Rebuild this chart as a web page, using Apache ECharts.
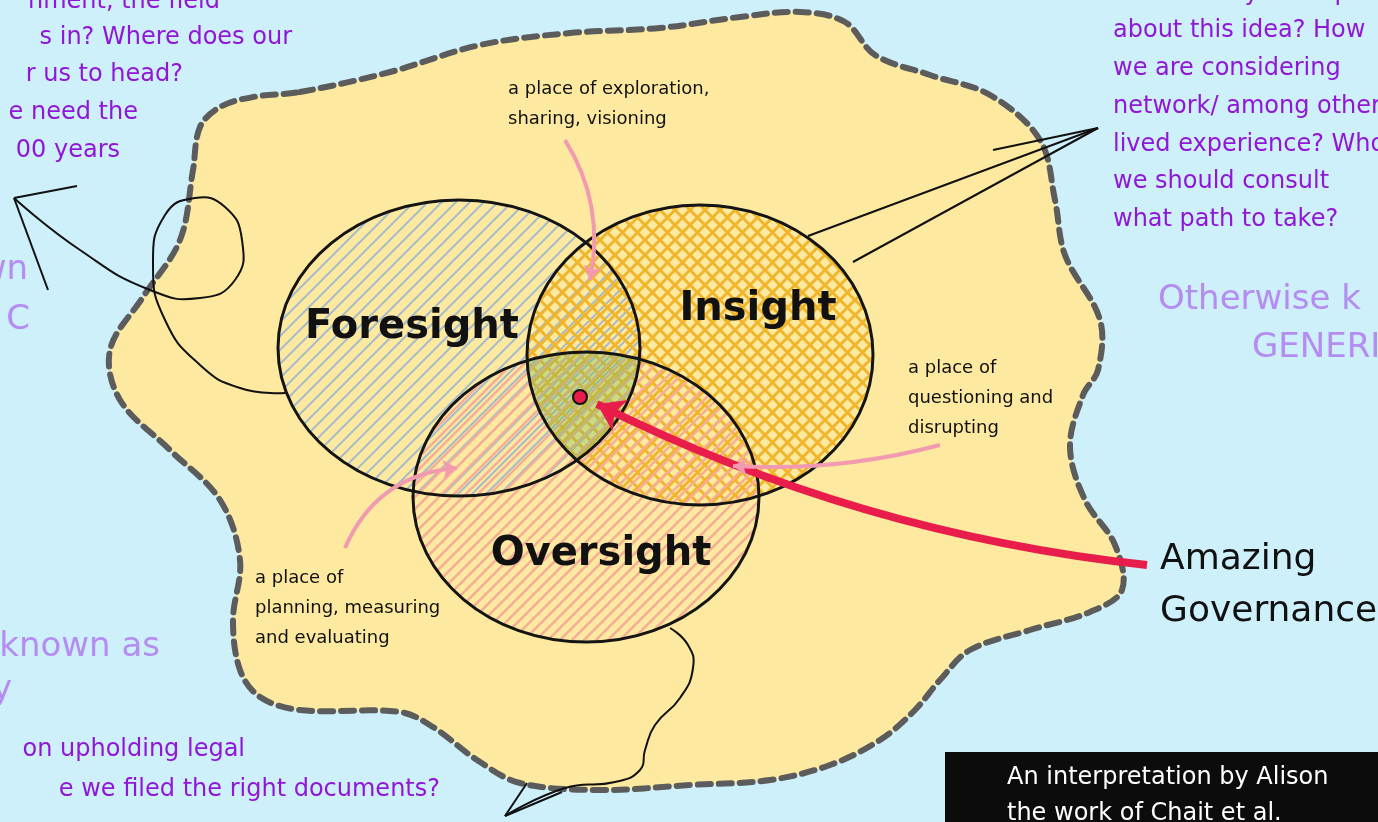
<!DOCTYPE html>
<html>
<head>
<meta charset="utf-8">
<script src="https://cdn.jsdelivr.net/npm/echarts@6/dist/echarts.min.js"></script>
<style>
  html, body { margin: 0; padding: 0; background: #cdf0fb; }
  #chart { width: 1378px; height: 822px; }
</style>
</head>
<body>
<div id="chart"></div>
<script>
// the three circles of governance
var circleNames = ['Foresight', 'Insight', 'Oversight'];
var circleCX = [459, 700, 586];
var circleCY = [348, 355, 497];
var circleRX = [181, 173, 173];
var circleRY = [148, 150, 145];
var circleLabelX = [412, 758, 601];
var circleLabelY = [328, 310, 555];

// dashed blob round the whole thing
var blobX = [300, 390, 480, 570, 660, 740, 800, 845, 875, 930, 990, 1040, 1055, 1065, 1100, 1098, 1083, 1070, 1085, 1115, 1122, 1090, 1030, 970, 940, 915, 880, 830, 770, 690, 600, 520, 477, 433, 400, 300, 260, 240, 233, 240, 220, 170, 120, 110, 143, 180, 193, 200, 220, 253];
var blobY = [92, 72, 45, 33, 28, 17, 12, 22, 55, 75, 95, 140, 200, 255, 320, 370, 395, 447, 500, 545, 590, 612, 630, 650, 680, 710, 740, 765, 780, 785, 790, 783, 760, 727, 712, 710, 697, 670, 620, 560, 500, 450, 400, 350, 297, 240, 170, 127, 107, 97];

// notes inside the blob
var noteText = ['a place of exploration,\nsharing, visioning', 'a place of\nquestioning and\ndisrupting', 'a place of\nplanning, measuring\nand evaluating'];
var noteX = [508, 908, 255];
var noteY = [89, 368, 578];

// pink pointer arrows (from, to, bend)
var pinkFrom = [[565, 140], [345, 548], [940, 445]];
var pinkTo = [[590, 280], [457, 468], [733, 466]];
var pinkBend = [0.2, 0.3, 0.08];

// main red arrow to the centre
var redFrom = [1147, 565];
var redTo = [597, 404];
var centreDot = [580, 397];

// thin black sketch lines
var loopX = [14, 80, 150, 200, 235, 242, 225, 195, 165, 153, 165, 200, 240, 285];
var loopY = [198, 250, 290, 298, 280, 240, 207, 198, 215, 265, 320, 365, 388, 393];
var squiggleX = [670, 688, 693, 680, 655, 645, 640, 615, 565, 505];
var squiggleY = [628, 645, 668, 698, 725, 750, 770, 782, 788, 816];
var sketchSegs = [
  [[14, 198], [77, 186]], [[14, 198], [48, 290]],
  [[808, 236], [1098, 128]], [[993, 150], [1098, 128]], [[853, 262], [1098, 128]],
  [[505, 816], [527, 783]], [[505, 816], [562, 792]]
];

// side texts (purple questions, lilac headings)
var purpleLines = ['nment, the field', 's in? Where does our', 'r us to head?', 'e need the', '00 years', 'on upholding legal', 'e we filed the right documents?'];
var purpleRight = [220, 292, 183, 138, 120, 245, 440];
var purpleY = [2, 38, 75, 113, 151, 750, 790];
var rightLines = ['what does your exp', 'about this idea? How', 'we are considering', 'network/ among other', 'lived experience? Who', 'we should consult', 'what path to take?'];
var rightY = [-6, 31, 69, 107, 145, 182, 220];
var lilacText = ['wn', 'C', 'known as', 'y', 'Otherwise k', 'GENERIC'];
var lilacX = [28, 30, 160, 12, 1158, 1252];
var lilacY = [270, 320, 647, 690, 300, 348];
var lilacAlign = ['right', 'right', 'right', 'right', 'left', 'left'];
var creditLines = ['An interpretation by Alison', 'the work of Chait et al.'];

function hatch(color, width, gap, cross) {
  var c = document.createElement('canvas');
  c.width = gap; c.height = gap;
  var g = c.getContext('2d');
  g.strokeStyle = color;
  g.lineWidth = width;
  g.beginPath();
  g.moveTo(-2, gap + 2); g.lineTo(gap + 2, -2);
  g.moveTo(-2, 2); g.lineTo(2, -2);
  g.moveTo(gap - 2, gap + 2); g.lineTo(gap + 2, gap - 2);
  if (cross) {
    g.moveTo(-2, -2); g.lineTo(gap + 2, gap + 2);
    g.moveTo(gap - 2, -2); g.lineTo(gap + 2, 2);
    g.moveTo(-2, gap - 2); g.lineTo(2, gap + 2);
  }
  g.stroke();
  return { image: c, repeat: 'repeat' };
}
var fills = [
  hatch('#a7bccb', 2, 14, false),
  hatch('#f1b52c', 3, 15, true),
  hatch('#f7ad96', 2.5, 12, false)
];

var hand = '"DejaVu Sans", sans-serif';

function ell(api, i, style) {
  var c = api.coord([circleCX[i], circleCY[i]]);
  var s = api.size([circleRX[i], circleRY[i]]);
  return { type: 'ellipse', shape: { cx: c[0], cy: c[1], rx: s[0], ry: s[1] }, style: style };
}
function txt(api, x, y, text, font, color, align, lh) {
  var p = api.coord([x, y]);
  return {
    type: 'text',
    style: {
      x: p[0], y: p[1], text: text, font: font, fill: color,
      align: align, textAlign: align, verticalAlign: 'middle', textVerticalAlign: 'middle',
      lineHeight: lh || 30
    }
  };
}

var myChart = echarts.init(document.getElementById('chart'));
var option = {
  backgroundColor: '#cdf0fb',
  animation: false,
  grid: { left: 0, right: 0, top: 0, bottom: 0 },
  xAxis: { type: 'value', min: 0, max: 1378, show: false },
  yAxis: { type: 'value', min: 0, max: 822, inverse: true, show: false },
  series: [
    {
      // blob
      type: 'custom', silent: true, data: [0],
      renderItem: function (params, api) {
        var pts = blobX.map(function (x, i) { return api.coord([x, blobY[i]]); });
        return {
          type: 'polygon', shape: { points: pts, smooth: 0.35 },
          style: { fill: '#fde99f', stroke: '#5c5c5c', lineWidth: 6, lineDash: [13, 8], lineCap: 'round' }
        };
      }
    },
    {
      // hatched circle fills
      type: 'custom', silent: true, data: [0, 1, 2],
      renderItem: function (params, api) {
        var i = params.dataIndex;
        return ell(api, i, { fill: fills[i] });
      }
    },
    {
      // green centre where all three meet
      type: 'custom', silent: true, data: [0],
      renderItem: function (params, api) {
        var a = ell(api, 0, {});
        var b = ell(api, 1, {});
        var c = ell(api, 2, { fill: 'rgba(120,190,90,0.36)' });
        c.clipPath = { type: 'ellipse', shape: b.shape };
        return { type: 'group', clipPath: { type: 'ellipse', shape: a.shape }, children: [c] };
      }
    },
    {
      // circle outlines
      type: 'custom', silent: true, data: [0, 1, 2],
      renderItem: function (params, api) {
        return ell(api, params.dataIndex, { fill: 'none', stroke: '#141414', lineWidth: 3 });
      }
    },
    {
      // thin black sketch lines
      type: 'custom', silent: true, data: [0],
      renderItem: function (params, api) {
        var kids = [];
        kids.push({ type: 'polyline', shape: { points: loopX.map(function (x, i) { return api.coord([x, loopY[i]]); }), smooth: 0.5 },
          style: { fill: 'none', stroke: '#111', lineWidth: 2 } });
        kids.push({ type: 'polyline', shape: { points: squiggleX.map(function (x, i) { return api.coord([x, squiggleY[i]]); }), smooth: 0.5 },
          style: { fill: 'none', stroke: '#111', lineWidth: 2 } });
        sketchSegs.forEach(function (s) {
          var p = api.coord(s[0]), q = api.coord(s[1]);
          kids.push({ type: 'line', shape: { x1: p[0], y1: p[1], x2: q[0], y2: q[1] }, style: { stroke: '#111', lineWidth: 2 } });
        });
        return { type: 'group', children: kids };
      }
    },
    {
      // big red arrow
      type: 'lines', coordinateSystem: 'cartesian2d', silent: true, z: 5,
      symbol: ['none', 'arrow'], symbolSize: 26,
      lineStyle: { color: '#e81d4b', width: 8, opacity: 1, curveness: 0.09 },
      data: [{ coords: [redFrom, redTo] }]
    },
    {
      // pink pointers
      type: 'lines', coordinateSystem: 'cartesian2d', silent: true, z: 6,
      symbol: ['none', 'arrow'], symbolSize: 14,
      lineStyle: { color: '#f29bb0', width: 4, opacity: 1 },
      data: pinkFrom.map(function (f, i) {
        return { coords: [f, pinkTo[i]], lineStyle: { curveness: pinkBend[i] } };
      })
    },
    {
      // centre dot
      type: 'scatter', silent: true, z: 7,
      symbol: 'circle', symbolSize: 14,
      itemStyle: { color: '#e81d4b', borderColor: '#111', borderWidth: 2, opacity: 1 },
      data: [centreDot]
    },
    {
      // all the words
      type: 'custom', silent: true, z: 8, data: [0],
      renderItem: function (params, api) {
        var k = [];
        circleNames.forEach(function (n, i) {
          k.push(txt(api, circleLabelX[i], circleLabelY[i], n, 'bold 40px ' + hand, '#111', 'center'));
        });
        noteText.forEach(function (t, i) {
          k.push(txt(api, noteX[i], noteY[i] + 15 * (t.split('\n').length - 1), t, '18px ' + hand, '#111', 'left', 30));
        });
        purpleLines.forEach(function (t, i) {
          k.push(txt(api, purpleRight[i], purpleY[i], t, '24px ' + hand, '#9016d8', 'right'));
        });
        rightLines.forEach(function (t, i) {
          k.push(txt(api, 1113, rightY[i], t, '24px ' + hand, '#9016d8', 'left'));
        });
        lilacText.forEach(function (t, i) {
          k.push(txt(api, lilacX[i], lilacY[i], t, '34px ' + hand, '#b58cf2', lilacAlign[i]));
        });
        k.push(txt(api, 1160, 586, 'Amazing\nGovernance', '36px ' + hand, '#111', 'left', 52));
        var b0 = api.coord([945, 752]), b1 = api.coord([1378, 822]);
        k.push({ type: 'rect', shape: { x: b0[0], y: b0[1], width: b1[0] - b0[0], height: b1[1] - b0[1] }, style: { fill: '#0c0c0c' } });
        k.push(txt(api, 1007, 778, creditLines[0], '24px ' + hand, '#fff', 'left'));
        k.push(txt(api, 1007, 814, creditLines[1], '24px ' + hand, '#fff', 'left'));
        return { type: 'group', children: k };
      }
    }
  ]
};
myChart.setOption(option);
window.addEventListener('resize', function () { myChart.resize(); });
</script>
</body>
</html>
